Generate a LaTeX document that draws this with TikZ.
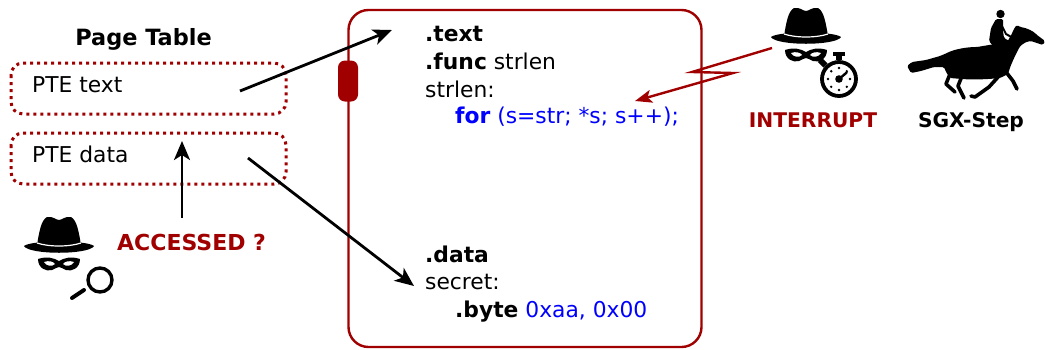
\documentclass[tikz,border=0pt]{standalone}
\usepackage{fontspec}
\setmainfont{DejaVu Sans}
\usetikzlibrary{arrows.meta}
\definecolor{darkred}{RGB}{160,0,0}
\definecolor{codeblue}{RGB}{0,0,255}

\tikzset{
  lbl/.style={inner sep=0pt, anchor=base west, font=\fontsize{21.8}{25}\selectfont},
  head/.style={inner sep=0pt, anchor=base, font=\fontsize{20.2}{25}\selectfont\bfseries},
  ptebox/.style={draw=darkred, line width=3pt, dash pattern=on 3pt off 4pt, rounded corners=12pt},
  ptr/.style={line width=2.8pt, -{Stealth[length=19pt,width=16pt,inset=5pt]}},
  irq/.style={draw=darkred, line width=2.4pt, -{Stealth[length=17pt,width=13pt,inset=4pt]}},
  leg/.style={line width=3.6pt, line cap=round, line join=round},
  % a spy: hat and mask, origin at the middle of the brim
  spy/.pic={
    \fill (-22,-2) .. controls (-20,-14) and (-18,-27) .. (-12,-30)
          .. controls (-6,-31) and (-3,-27) .. (0,-27)
          .. controls (3,-27) and (6,-31) .. (12,-30)
          .. controls (18,-27) and (20,-14) .. (22,-2) -- cycle;
    \fill (-35,-1) .. controls (-28,-7) and (28,-7) .. (35,-1)
          .. controls (30,8) and (-30,8) .. (-35,-1) -- cycle;
    \draw[white, line width=1.2pt] (-22,-4) .. controls (-10,0) and (10,0) .. (22,-4);
    \fill (-21,12) .. controls (-12,9) and (-5,11) .. (0,14)
          .. controls (5,11) and (12,9) .. (21,12)
          .. controls (21,21) and (13,25) .. (7,23)
          .. controls (4,22) and (2,20) .. (0,20)
          .. controls (-2,20) and (-4,22) .. (-7,23)
          .. controls (-13,25) and (-21,21) .. (-21,12) -- cycle;
    \fill[white] (-15,15) .. controls (-10,13) and (-5,15) .. (-4,17)
          .. controls (-7,20) and (-13,19) .. (-15,15) -- cycle;
    \fill[white] (15,15) .. controls (10,13) and (5,15) .. (4,17)
          .. controls (7,20) and (13,19) .. (15,15) -- cycle;
  },
  % a stopwatch, origin at its centre
  watch/.pic={
    \draw[line width=3.8pt] (0,0) circle[radius=17];
    \fill (-3,-19) rectangle (3,-24);
    \fill (-6,-23) rectangle (6,-27);
    \fill[rotate=45] (-3,-19) rectangle (3,-27);
    \foreach \a in {0,45,...,315} \fill (\a:11) circle[radius=1.3];
    \fill (0,0) circle[radius=3.8];
    \draw[line width=2.4pt, line cap=round] (0,0) -- (-40:10);
  }
}

\begin{document}
\begin{tikzpicture}[x=1pt,y=-1pt]
\useasboundingbox (0,0) rectangle (1045,349);

% page table
\node[head, font=\fontsize{22.4}{25}\selectfont\bfseries] (pt) at (143.5,45) {Page Table};
\draw[ptebox] (11,63) rectangle (286,114);
\draw[ptebox] (11,133) rectangle (286,184);
\node[lbl] (ptetext) at (32,92) {PTE text};
\node[lbl] (ptedata) at (32,162) {PTE data};

% enclave memory
\node[draw=darkred, line width=2.4pt, rounded corners=20pt, minimum width=353pt,
      minimum height=337pt, inner sep=0pt] (mem) at (525,178.5) {};
\node[fill=darkred, rounded corners=7pt, minimum width=20pt, minimum height=41pt,
      inner sep=0pt] (pill) at (348,81) {};

\node[lbl] (sec1) at (425,41) {\textbf{.text}};
\node[lbl] (func) at (425,69) {\textbf{.func} strlen};
\node[lbl] (strl) at (425,97) {strlen:};
\node[lbl, text=codeblue] (loop) at (455,123) {\textbf{for} (s=str; *s; s++);};
\node[lbl] (sec2) at (425,262) {\textbf{.data}};
\node[lbl] (secr) at (425,289) {secret:};
\node[lbl] (byte) at (455,317) {\textbf{.byte} \textcolor{codeblue}{0xaa, 0x00}};

% page table entries point into the enclave
\coordinate (tsrc) at (240,91);
\coordinate (ttgt) at (392,30);
\coordinate (dsrc) at (248,158);
\coordinate (dtgt) at (414,286);
\draw[ptr] (tsrc) -- (ttgt);
\draw[ptr] (dsrc) -- (dtgt);

% accessed-bit attacker
\coordinate (qsrc) at (182,218);
\coordinate (qtgt) at (182,141);
\draw[ptr] (qsrc) -- (qtgt);
\node[head, anchor=base west, text=darkred, font=\fontsize{22}{25}\selectfont\bfseries] (acc) at (117,250) {ACCESSED ?};
\pic at (59,247) {spy};
\draw[line width=3.4pt] (100,280) circle[radius=12];
\draw[line width=4pt, line cap=round] (72,298) -- (84,290);

% interrupting attacker
\pic at (806,38) {spy};
\pic at (839,79) {watch};
\node[head, text=darkred] (intr) at (813,127) {INTERRUPT};
\coordinate (isrc) at (772,48);
\coordinate (iz1) at (692,72);
\coordinate (iz2) at (733,73);
\coordinate (itgt) at (635,101);
\draw[irq] (isrc) -- (iz1) -- (iz2) -- (itgt);

% SGX-Step rider: horse body, legs, jockey
\fill[rounded corners=1.5pt]
  (947,53) .. controls (955,49) and (968,47) .. (977,47)
  -- (1007,42) .. controls (1011,36) and (1013,31) .. (1015,27)
  -- (1017,25) -- (1020,27) .. controls (1027,28) and (1033,31) .. (1037,35)
  -- (1045,41) -- (1043,45) -- (1031,41)
  .. controls (1024,42) and (1020,46) .. (1018,50)
  .. controls (1013,60) and (1010,67) .. (1008,74)
  -- (1000,78) .. controls (990,79) and (975,80) .. (962,79)
  -- (950,78) -- (946,72) -- (944,67) -- (934,67) -- (921,71) -- (911,73) -- (907,66)
  -- (912,62) -- (926,60) -- (940,56) -- cycle;
\draw[leg] (1006,72) -- (1013,81) -- (1017,89);
\draw[leg] (999,76) -- (989,87) -- (975,97) -- (971,96);
\draw[leg] (962,76) -- (958,86) -- (964,98);
\draw[leg] (950,74) -- (946,84) -- (955,92);
\fill (1000.5,14) circle[radius=4.2];
\fill[rounded corners=1.5pt] (996,19) -- (1003,19) -- (1003,31) -- (1004,38) -- (1011,42)
  -- (1003,47) -- (993,46) -- (989,41) -- (991,28) -- cycle;
\draw[line width=2pt, line cap=round] (1001,24) -- (1006,34) -- (1013,38);
\node[head] (sgx) at (971,127) {SGX-Step};
\end{tikzpicture}
\end{document}
